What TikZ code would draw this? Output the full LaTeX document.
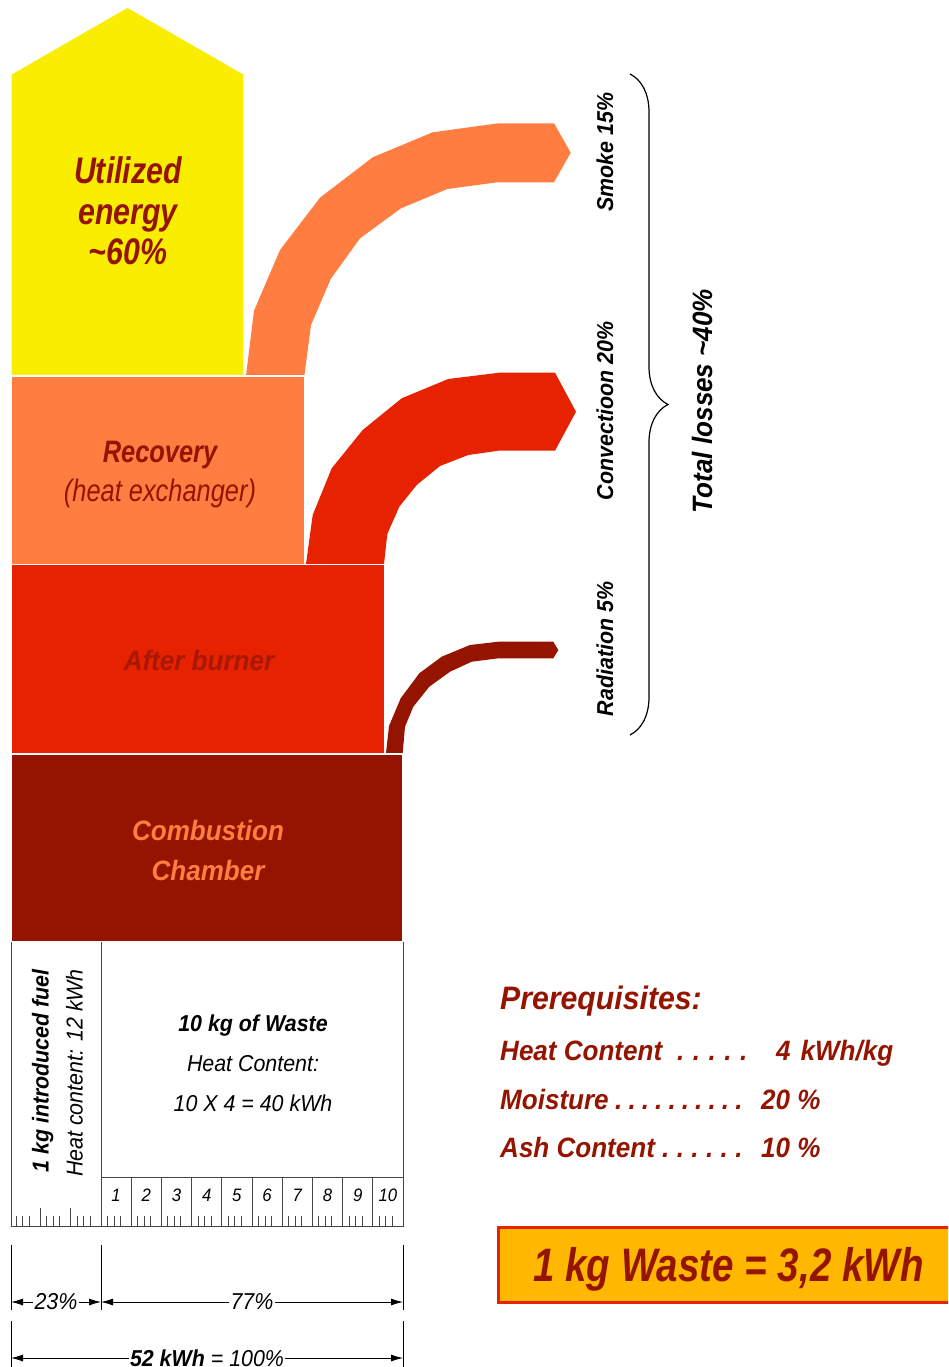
\documentclass[tikz,border=0pt]{standalone}
\usepackage{fontspec}
\setmainfont{Liberation Sans}
\newfontfamily\fA[FakeStretch=0.82]{Liberation Sans}
\newfontfamily\fB[FakeStretch=0.93]{Liberation Sans}
\usetikzlibrary{arrows.meta,decorations.pathreplacing}
\definecolor{cyel}{RGB}{250,238,0}
\definecolor{corg}{RGB}{255,125,64}
\definecolor{cred}{RGB}{230,34,0}
\definecolor{cmar}{RGB}{149,20,0}
\definecolor{cab}{RGB}{168,24,0}
\definecolor{cbox}{RGB}{255,183,0}
\definecolor{cline}{RGB}{70,70,70}
\newcount\mydotc
\newcommand\myDots[2]{\mydotc=1 .\loop\ifnum\mydotc<#1 \hspace{#2}.\advance\mydotc by 1 \repeat}
\tikzset{
  blk/.style={draw=white, line width=1.3},
  lbl/.style={inner sep=0pt, anchor=base},
  rl/.style={cline, line width=0.9},
  dim/.style={black, line width=0.8, {Latex[length=12,width=7]}-{Latex[length=12,width=7]}},
  dimlbl/.style={fill=white, inner sep=1.5pt, anchor=center},
  ext/.style={black, line width=0.8},
  pre/.style={lbl, anchor=base west, text=cmar, font=\fB\bfseries\itshape\fontsize{28}{32}\selectfont},
}
\begin{document}
\begin{tikzpicture}[x=1pt,y=-1pt]
\clip (0,0) rectangle (948,1367);
\fill[white] (0,0) rectangle (948,1367);
% loss flows
\path[fill=corg] (246,376) -- (254,310.7) -- (280,250) -- (320,197.7) -- (372.7,157.3) -- (432.7,132.3) -- (498.3,123.3) -- (554,123.3) -- (570.7,152.7) -- (554,182.3) -- (497.3,182.3) -- (447.3,189) -- (401,208.3) -- (360,238.3) -- (330.7,279) -- (311,325) -- (304.3,376) -- cycle;
\path[fill=cred] (306,564) -- (312.7,515) -- (331.7,468.3) -- (362.7,430) -- (401.7,398.3) -- (448.3,379) -- (499.3,372.7) -- (555,372.7) -- (576,411.7) -- (555,450.7) -- (498.3,450.7) -- (468.3,455) -- (440,466) -- (416.7,485) -- (399.3,506.7) -- (387.3,534) -- (384,564) -- cycle;
\path[fill=cmar] (386,753) -- (389,726) -- (400.7,698.3) -- (419.3,673.3) -- (441.7,656.7) -- (470,645) -- (498.3,641.7) -- (553.3,641.7) -- (558.3,650) -- (553.3,658.3) -- (498.3,658.3) -- (471.7,661.7) -- (450,671.7) -- (429.3,686.7) -- (413.3,706.7) -- (405,726.7) -- (402.7,753) -- cycle;
% blocks
\path[blk, fill=cyel] (11,375.5) -- (11,74) -- (127.5,7) -- (244,74) -- (244,375.5) -- cycle;
\path[blk, fill=corg] (11,376) rectangle (304.5,564.5);
\path[blk, fill=cred] (11,564.5) rectangle (384.5,754);
\path[blk, fill=cmar] (11,754) rectangle (403,942);
% block texts
\node[lbl, text=cmar, font=\fA\bfseries\itshape\fontsize{37}{40}\selectfont] (u1) at (128,184) {Utilized};
\node[lbl, text=cmar, font=\fA\bfseries\itshape\fontsize{37}{40}\selectfont] (u2) at (128,224) {energy};
\node[lbl, text=cmar, font=\fA\bfseries\itshape\fontsize{37}{40}\selectfont] (u3) at (128,264) {\char`\~60\%};
\node[lbl, text=cmar, font=\fA\bfseries\itshape\fontsize{31}{34}\selectfont] (r1) at (160,462.7) {Recovery};
\node[lbl, text=cmar, font=\fA\itshape\fontsize{31}{34}\selectfont] (r2) at (160,501.7) {(heat exchanger)};
\node[lbl, text=cab, font=\fB\bfseries\itshape\fontsize{28}{32}\selectfont] (ab) at (199,670) {After burner};
\node[lbl, text=corg, font=\fB\bfseries\itshape\fontsize{28}{32}\selectfont] (c1) at (208,840) {Combustion};
\node[lbl, text=corg, font=\fB\bfseries\itshape\fontsize{28}{32}\selectfont] (c2) at (208,880) {Chamber};
% loss labels
\node[lbl, rotate=90, font=\fB\bfseries\itshape\fontsize{23}{26}\selectfont] (ls) at (613,152) {Smoke 15\%};
\node[lbl, rotate=90, font=\fB\bfseries\itshape\fontsize{23}{26}\selectfont] (lc) at (613,411) {Convectioon 20\%};
\node[lbl, rotate=90, font=\fB\bfseries\itshape\fontsize{23}{26}\selectfont] (lr) at (613,649) {Radiation 5\%};
\coordinate (br1) at (630,74);
\coordinate (br2) at (630,735);
\draw[black, line width=1.2, decorate, decoration={brace, amplitude=38}] (br1) -- (br2);
\node[lbl, rotate=90, font=\fB\bfseries\itshape\fontsize{28}{31}\selectfont] (tl) at (712,401) {Total losses \char`\~40\%};
% input section
\draw[rl] (11,942) -- (11,1226.5);
\draw[rl] (101,942) -- (101,1226.5);
\draw[rl] (403,942) -- (403,1226.5);
\draw[rl] (101,1177) -- (403,1177);
\draw[rl] (10.5,1226.5) -- (403.5,1226.5);
\foreach \k in {1,...,9} { \draw[rl] (101+30.2*\k,1177) -- (101+30.2*\k,1226.5); }
\foreach \k in {0,...,9} {
  \foreach \o in {6.5,13,19.5} { \draw[rl] (101+30.2*\k+\o,1216) -- (101+30.2*\k+\o,1226.5); }
}
\foreach \k in {1,...,10} {
  \node[lbl, font=\fB\itshape\fontsize{18}{20}\selectfont] (n\k) at (101+30.2*\k-15.1,1201.5) {\k};
}
\draw[rl] (40.3,1208) -- (40.3,1226.5);
\draw[rl] (70.7,1208) -- (70.7,1226.5);
\foreach \s in {9.9,40.3,70.7} {
  \foreach \o in {6.5,13,19.5} { \draw[rl] (\s+\o,1216) -- (\s+\o,1226.5); }
}
\node[lbl, rotate=90, font=\fB\bfseries\itshape\fontsize{23}{26}\selectfont] (f1) at (48.5,1071) {1 kg introduced fuel};
\node[lbl, rotate=90, font=\fB\itshape\fontsize{23}{26}\selectfont] (f2) at (82.5,1073) {Heat content: 12 kWh};
\node[lbl, font=\fB\bfseries\itshape\fontsize{23}{26}\selectfont] (w1) at (253,1031) {10 kg of Waste};
\node[lbl, font=\fB\itshape\fontsize{23}{26}\selectfont] (w2) at (253,1071) {Heat Content:};
\node[lbl, font=\fB\itshape\fontsize{23}{26}\selectfont] (w3) at (253,1111) {10 X 4 = 40 kWh};
% dimensions
\coordinate (e1t) at (11,1245); \coordinate (e1b) at (11,1310);
\coordinate (e2t) at (101,1245); \coordinate (e2b) at (101,1310);
\coordinate (e3t) at (403,1245); \coordinate (e3b) at (403,1310);
\coordinate (e4t) at (11,1321); \coordinate (e4b) at (11,1367);
\coordinate (e5t) at (403,1321); \coordinate (e5b) at (403,1367);
\draw[ext] (e1t) -- (e1b); \draw[ext] (e2t) -- (e2b); \draw[ext] (e3t) -- (e3b);
\draw[ext] (e4t) -- (e4b); \draw[ext] (e5t) -- (e5b);
\coordinate (d1) at (11,1302); \coordinate (d2) at (101,1302); \coordinate (d3) at (403,1302);
\coordinate (d4) at (11,1358); \coordinate (d5) at (403,1358);
\draw[dim] (d1) -- node[dimlbl, font=\fB\itshape\fontsize{23}{26}\selectfont] (t23) {23\%} (d2);
\draw[dim] (d2) -- node[dimlbl, font=\fB\itshape\fontsize{23}{26}\selectfont] (t77) {77\%} (d3);
\draw[dim] (d4) -- node[dimlbl, inner ysep=0.5pt, font=\fB\itshape\fontsize{23}{26}\selectfont] (t100) {\bfseries 52 kWh\mdseries{} = 100\%} (d5);
% prerequisites
\node[pre, font=\fB\bfseries\itshape\fontsize{32.5}{36}\selectfont] (p0) at (500,1009) {Prerequisites:};
\node[pre] (p1) at (500,1060.7) {Heat Content};
\node[pre] (p1d) at (677,1060.7) {\myDots{5}{8.5pt}};
\node[pre] (p1v) at (776,1060.7) {4\hspace{10pt}kWh/kg};
\node[pre] (p2) at (500,1109) {Moisture};
\node[pre] (p2d) at (615,1109) {\myDots{10}{6.1pt}};
\node[pre] (p2v) at (761,1109) {20 \%};
\node[pre] (p3) at (500,1157) {Ash Content};
\node[pre] (p3d) at (662,1157) {\myDots{6}{7.4pt}};
\node[pre] (p3v) at (761,1157) {10 \%};
% result box
\coordinate (bx1) at (498,1227);
\coordinate (bx2) at (965,1302);
\path[draw=cred, fill=cbox, line width=3] (bx1) rectangle (bx2);
\node[lbl, text=cmar, font=\fA\bfseries\itshape\fontsize{47}{50}\selectfont] (res) at (728.5,1281.7) {1 kg Waste = 3,2 kWh};
\end{tikzpicture}
\end{document}
